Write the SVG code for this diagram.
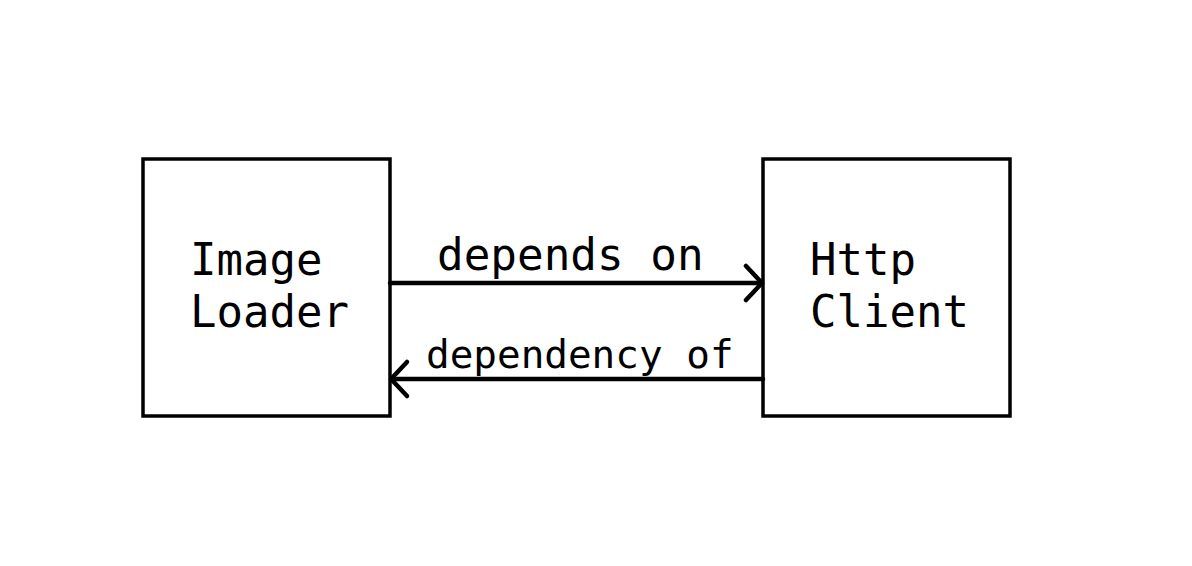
<svg xmlns="http://www.w3.org/2000/svg" width="1192" height="566" viewBox="0 0 1192 566">
<style>
.box{fill:#fff;stroke:#000;stroke-width:3.5}
.t{font-family:"DejaVu Sans Mono",monospace;fill:#000}
.c{stroke:#000;stroke-width:4.5;fill:none;stroke-linecap:round;stroke-linejoin:round}
</style>
<rect width="1192" height="566" fill="#fff"/>
<g id="image-loader">
<rect class="box" x="143" y="159" width="247" height="257"/>
<text class="t" x="190" y="275" font-size="44">Image</text>
<text class="t" x="190" y="327" font-size="44">Loader</text>
</g>
<g id="http-client">
<rect class="box" x="763" y="159" width="247" height="257"/>
<text class="t" x="810" y="275" font-size="44">Http</text>
<text class="t" x="810" y="327" font-size="44">Client</text>
</g>
<g id="connectors">
<line class="c" x1="390" y1="283" x2="762" y2="283"/>
<polyline class="c" points="746,266 762,283 746,300"/>
<text class="t" x="437" y="270" font-size="44.3">depends on</text>
<line class="c" x1="763" y1="379" x2="391" y2="379"/>
<polyline class="c" points="407,362 391,379 407,396"/>
<text class="t" x="426" y="368" font-size="39.3">dependency of</text>
</g>
</svg>
